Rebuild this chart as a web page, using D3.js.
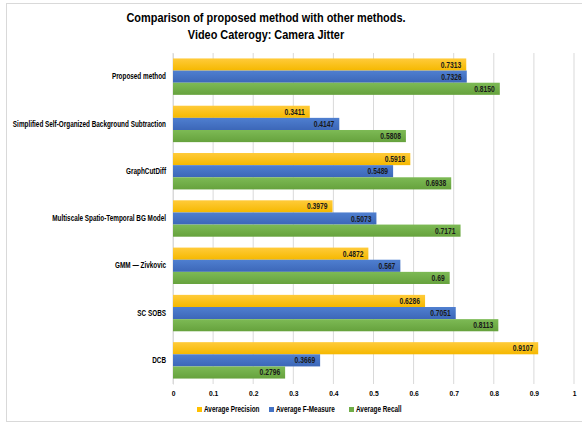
<!DOCTYPE html>
<html>
<head>
<meta charset="utf-8">
<script src="https://cdn.jsdelivr.net/npm/d3@7"></script>
<style>
  body { margin: 0; background: #fff; }
  svg text { font-family: "Liberation Sans", Arial, sans-serif; font-weight: bold; }
</style>
</head>
<body>
<svg id="chart"></svg>
<script>
var categories = ["Proposed method", "Simplified Self-Organized Background Subtraction", "GraphCutDiff",
  "Multiscale Spatio-Temporal BG Model", "GMM \u2014 Zivkovic", "SC SOBS", "DCB"];
var seriesNames = ["Average Precision", "Average F-Measure", "Average Recall"];
var precision = [0.7313, 0.3411, 0.5918, 0.3979, 0.4872, 0.6286, 0.9107];
var fmeasure  = [0.7326, 0.4147, 0.5489, 0.5073, 0.567, 0.7051, 0.3669];
var recall    = [0.8150, 0.5808, 0.6938, 0.7171, 0.69, 0.8113, 0.2796];
var labelsP = ["0.7313", "0.3411", "0.5918", "0.3979", "0.4872", "0.6286", "0.9107"];
var labelsF = ["0.7326", "0.4147", "0.5489", "0.5073", "0.567", "0.7051", "0.3669"];
var labelsR = ["0.8150", "0.5808", "0.6938", "0.7171", "0.69", "0.8113", "0.2796"];
var ticks = [0, 0.1, 0.2, 0.3, 0.4, 0.5, 0.6, 0.7, 0.8, 0.9, 1];

var width = 582, height = 425;
var svg = d3.select("#chart").attr("width", width).attr("height", height);

// gradients like the spreadsheet bars
var defs = svg.append("defs");
var grads = [["gP", "#ffcb3a", "#f5b800"], ["gF", "#4f7fd0", "#3c67b8"], ["gR", "#7dba55", "#66a23d"]];
grads.forEach(function(g) {
  var lg = defs.append("linearGradient").attr("id", g[0]).attr("x1", 0).attr("y1", 0).attr("x2", 0).attr("y2", 1);
  lg.append("stop").attr("offset", "0%").attr("stop-color", g[1]);
  lg.append("stop").attr("offset", "100%").attr("stop-color", g[2]);
});
var fills = ["url(#gP)", "url(#gF)", "url(#gR)"];
var legendColors = ["#ffc000", "#4472c4", "#70ad47"];

svg.append("rect").attr("x", 6.5).attr("y", 3.5).attr("width", 580).attr("height", 418)
  .attr("fill", "#fff").attr("stroke", "#d9d9d9");

var x = d3.scaleLinear().domain([0, 1]).range([173, 574]);
var y = d3.scaleBand().domain(categories).range([53, 384]).paddingInner(0.23).paddingOuter(0.115);
var ys = d3.scaleBand().domain([0, 1, 2]).range([0, y.bandwidth()]);

svg.append("text").attr("x", 266).attr("y", 22).attr("text-anchor", "middle")
  .attr("font-size", 13).attr("data-sq", 0.84).text("Comparison of proposed method with other methods.");
svg.append("text").attr("x", 266).attr("y", 39).attr("text-anchor", "middle")
  .attr("font-size", 13).attr("data-sq", 0.84).text("Video Caterogy: Camera Jitter");

// grid
svg.append("g").selectAll("line").data(ticks).enter().append("line")
  .attr("x1", function(d) { return x(d); }).attr("x2", function(d) { return x(d); })
  .attr("y1", 53).attr("y2", 384).attr("stroke", "#d9d9d9").attr("stroke-width", 1);

var xAxis = d3.axisBottom(x).tickValues(ticks).tickSize(0).tickPadding(6).tickFormat(function(d) { return String(d); });
var gx = svg.append("g").attr("transform", "translate(0,384)").call(xAxis);
gx.select(".domain").remove();
gx.selectAll("text").attr("font-size", 8).attr("fill", "#000").attr("data-sq", 0.84)
  .style("font-family", "'Liberation Sans', Arial, sans-serif").style("font-weight", "bold");

var yAxis = d3.axisLeft(y).tickSize(0).tickPadding(7);
var gy = svg.append("g").attr("transform", "translate(173,0)").call(yAxis);
gy.select(".domain").attr("stroke", "#d9d9d9");
gy.selectAll("text").attr("font-size", 8.4).attr("fill", "#000").attr("data-sq", 0.76)
  .style("font-family", "'Liberation Sans', Arial, sans-serif").style("font-weight", "bold");

var series = [precision, fmeasure, recall];
var labels = [labelsP, labelsF, labelsR];
series.forEach(function(vals, s) {
  var g = svg.append("g");
  g.selectAll("rect").data(vals).enter().append("rect")
    .attr("x", x(0))
    .attr("y", function(d, i) { return y(categories[i]) + ys(s); })
    .attr("width", function(d) { return x(d) - x(0); })
    .attr("height", ys.bandwidth())
    .attr("fill", fills[s]);
  g.selectAll("text").data(vals).enter().append("text")
    .attr("x", function(d) { return x(d) - 5; })
    .attr("y", function(d, i) { return y(categories[i]) + ys(s) + ys.bandwidth() / 2 + 3; })
    .attr("text-anchor", "end").attr("font-size", 8.2).attr("fill", "#1a1a1a").attr("data-sq", 0.82)
    .text(function(d, i) { return labels[s][i]; });
});

// legend
var legendX = [197, 269, 349];
var lg = svg.append("g");
seriesNames.forEach(function(n, i) {
  lg.append("rect").attr("x", legendX[i]).attr("y", 407).attr("width", 5).attr("height", 5).attr("fill", legendColors[i]);
  lg.append("text").attr("x", legendX[i] + 7).attr("y", 412).attr("font-size", 8.2).attr("fill", "#000")
    .attr("data-sq", 0.78).text(n);
});

// squeeze every text horizontally so it reads like the narrow original face
svg.selectAll("text").each(function() {
  var len = this.getComputedTextLength();
  var k = +this.getAttribute("data-sq") || 0.84;
  d3.select(this).attr("textLength", len * k).attr("lengthAdjust", "spacingAndGlyphs");
});
</script>
</body>
</html>
